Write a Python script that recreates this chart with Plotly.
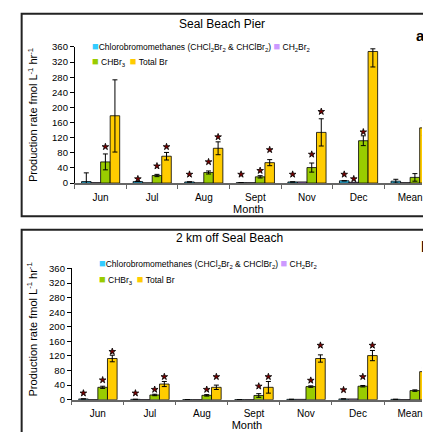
import plotly.graph_objects as go

months = ["Jun", "Jul", "Aug", "Sept", "Nov", "Dec", "Mean"]

# Panel a: Seal Beach Pier
pier_chloro = [4, 4, 3, 1, 3, 6, 5]
pier_chloro_err = [23, None, None, None, None, None, 5]
pier_ch2br2 = [1, 0.5, 0.5, 1, 3, 2, 1]
pier_chbr3 = [56, 20, 28, 16.5, 41, 112, 15]
pier_chbr3_err = [21, 3, 4, 3, 12, 13, 10]
pier_total = [178, 71, 92, 54, 134, 348, 146]
pier_total_err_plus = [95, 10, 17, 8, 36, 7, 20]
pier_total_err_minus = [96, 10, 17, 8, 36, 41, 20]
pier_star_chloro = [None, 11, 23, 23, 23, 23, None]
pier_star_ch2br2 = [None, None, None, None, None, 11, None]
pier_star_chbr3 = [96, 45, 56, 33, 76, 135, None]
pier_star_total = [None, 96, 122, 88, 189, 399, None]

# Panel b: 2 km off Seal Beach
off_chloro = [2, 1, 0.3, 0.3, 1, 2, 1]
off_chloro_err = [None] * 7
off_ch2br2 = [0.3, 0.3, 0.3, 0.3, 1, 2, 0.5]
off_chbr3 = [34, 13, 12, 11.6, 36, 37, 25]
off_chbr3_err = [3, 2, 2, 5, 2, 2, 2]
off_total = [113, 43, 34, 34, 113, 121, 77]
off_total_err = [9, 7, 6, 16, 10, 14, 10]
off_star_chloro = [18, 18, None, None, None, 27, None]
off_star_ch2br2 = [None] * 7
off_star_chbr3 = [54, 28, 28, 37, 53, 63, None]
off_star_total = [132, 63, 63, 63, 149, 149, None]

yticks = [0, 40, 80, 120, 160, 200, 240, 280, 320, 360]

COL = {"chloro": "#33CCFF", "ch2br2": "#CC99FF", "chbr3": "#99CC00", "total": "#FFCC00"}
NAMES = {"chloro": "Chlorobromomethanes (CHCl<sub>2</sub>Br<sub>2</sub> &amp; CHClBr<sub>2</sub>)",
         "ch2br2": "CH<sub>2</sub>Br<sub>2</sub>", "chbr3": "CHBr<sub>3</sub>", "total": "Total Br"}
W = 0.185
OFF = {"chloro": -0.37, "ch2br2": -0.185, "chbr3": 0.0, "total": 0.185}
FONT = "Liberation Sans, Arial, sans-serif"

W_PX, H_PX = 423, 432
fig = go.Figure()
idx = list(range(len(months)))


def add_panel(series, stars, xa, ya):
    for key, (vals, ep, em) in series.items():
        fig.add_trace(go.Bar(
            x=idx, y=vals, width=W, offset=OFF[key], name=NAMES[key],
            marker=dict(color=COL[key], line=dict(color="black", width=0.8)),
            error_y=dict(type="data", array=ep, arrayminus=em, symmetric=False,
                         color="black", thickness=1, width=2.5),
            xaxis=xa, yaxis=ya, showlegend=False))
    for key, sv in stars.items():
        fig.add_trace(go.Scatter(
            x=[i + OFF[key] + W / 2 for i in idx], y=sv, mode="markers",
            marker=dict(symbol="star", size=5, color="#7A0000",
                        line=dict(color="black", width=0.8)),
            cliponaxis=False, showlegend=False, hoverinfo="skip",
            xaxis=xa, yaxis=ya))


add_panel({"chloro": (pier_chloro, pier_chloro_err, pier_chloro_err),
           "ch2br2": (pier_ch2br2, None, None),
           "chbr3": (pier_chbr3, pier_chbr3_err, pier_chbr3_err),
           "total": (pier_total, pier_total_err_plus, pier_total_err_minus)},
          {"chloro": pier_star_chloro, "ch2br2": pier_star_ch2br2,
           "chbr3": pier_star_chbr3, "total": pier_star_total}, "x", "y")
add_panel({"chloro": (off_chloro, off_chloro_err, off_chloro_err),
           "ch2br2": (off_ch2br2, None, None),
           "chbr3": (off_chbr3, off_chbr3_err, off_chbr3_err),
           "total": (off_total, off_total_err, off_total_err)},
          {"chloro": off_star_chloro, "ch2br2": off_star_ch2br2,
           "chbr3": off_star_chbr3, "total": off_star_total}, "x2", "y2")


def px_x(p):
    return p / W_PX


def px_y(p):
    return 1 - p / H_PX


xcommon = dict(range=[-0.5, 6.23], tickmode="array", tickvals=idx, ticktext=months,
               ticks="", showline=True, linecolor="#666666", linewidth=1.5,
               showgrid=False, zeroline=False, ticklabelstandoff=4,
               ticklabeloverflow="allow",
               tickfont=dict(size=10, color="black", family=FONT),
               minor=dict(tickmode="linear", tick0=-0.5, dtick=1, ticks="outside",
                          ticklen=4, tickcolor="#666666", tickwidth=1.2),
               title=dict(text="Month", font=dict(size=11, color="black", family=FONT),
                          standoff=0))
ycommon = dict(range=[0, 360], tickmode="array", tickvals=yticks, ticks="outside",
               ticklen=4, tickcolor="black", showline=True, linecolor="black",
               linewidth=1, showgrid=False, zeroline=False,
               tickfont=dict(size=9.5, color="black", family=FONT))

fig.update_layout(
    width=W_PX, height=H_PX, autosize=False,
    margin=dict(l=0, r=0, t=0, b=0),
    paper_bgcolor="white", plot_bgcolor="white",
    showlegend=False, barmode="overlay",
    font=dict(family=FONT, color="black"),
    xaxis=dict(domain=[px_x(75), 1], anchor="y", **xcommon),
    yaxis=dict(domain=[px_y(181.7), px_y(42)], anchor="x", **ycommon),
    xaxis2=dict(domain=[px_x(72), 1], anchor="y2", **xcommon),
    yaxis2=dict(domain=[px_y(404), px_y(269.3)], anchor="x2", **ycommon),
)

# panel borders
fig.add_shape(type="rect", xref="paper", yref="paper", x0=px_x(21.7), x1=1.2,
              y0=px_y(215.7), y1=px_y(8), line=dict(color="#222222", width=2))
fig.add_shape(type="rect", xref="paper", yref="paper", x0=px_x(21.7), x1=1.2,
              y0=-0.2, y1=px_y(229.5), line=dict(color="#222222", width=2))

ytitle = "Production rate fmol L<sup>-1</sup> hr<sup>-1</sup>"
sw = "<span style='font-size:11px;color:{c}'>■</span>"
leg1 = (sw.format(c=COL["chloro"]) + NAMES["chloro"] + " " + sw.format(c=COL["ch2br2"])
        + " " + NAMES["ch2br2"])
leg2 = (sw.format(c=COL["chbr3"]) + " " + NAMES["chbr3"] + "  " + sw.format(c=COL["total"])
        + " " + NAMES["total"])

ann = [
    dict(text="Seal Beach Pier", x=px_x(223), y=px_y(18), font=dict(size=12)),
    dict(text="2 km off Seal Beach", x=px_x(230), y=px_y(238), font=dict(size=12)),
    dict(text=ytitle, x=px_x(33), y=px_y(112), textangle=-90, font=dict(size=11)),
    dict(text=ytitle, x=px_x(32), y=px_y(332), textangle=-90, font=dict(size=11)),
    dict(text=leg1, x=px_x(90), y=px_y(42), xanchor="left", font=dict(size=8.5)),
    dict(text=leg2, x=px_x(90), y=px_y(57), xanchor="left", font=dict(size=8.5)),
    dict(text=leg1, x=px_x(97), y=px_y(264), xanchor="left", font=dict(size=8.5)),
    dict(text=leg2, x=px_x(97), y=px_y(281), xanchor="left", font=dict(size=8.5)),
    dict(text="<b>a</b>", x=px_x(415), y=px_y(30), xanchor="left", font=dict(size=15)),
    dict(text="<b>b</b>", x=px_x(420), y=px_y(247), xanchor="left", font=dict(size=15)),
]
for a in ann:
    a.setdefault("xanchor", "center")
    f = a.pop("font")
    f.update(family=FONT, color="black")
    fig.add_annotation(xref="paper", yref="paper", showarrow=False, yanchor="middle",
                       font=f, **a)

fig.write_html("out.html", config={"displayModeBar": False},
               post_script="document.body.style.margin='0';document.body.style.overflow='hidden';")
